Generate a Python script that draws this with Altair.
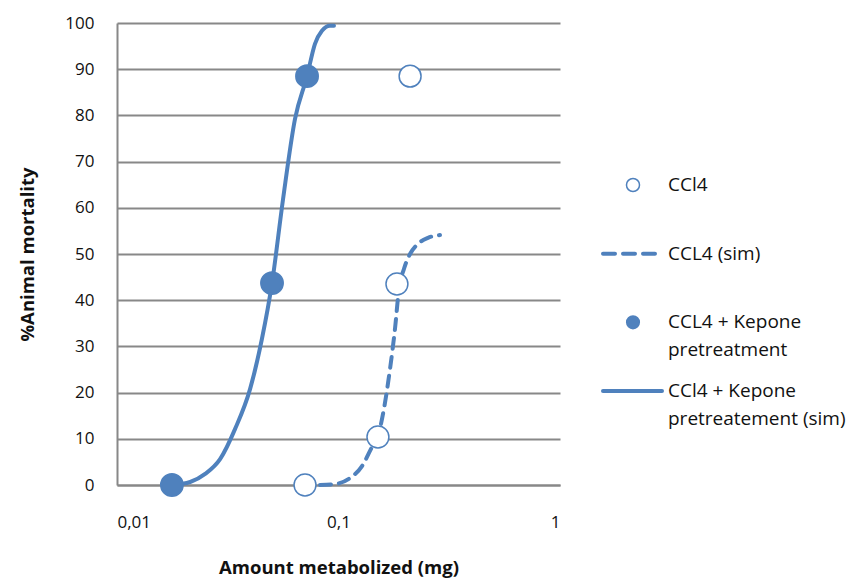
import altair as alt
import pandas as pd

BLUE = "#4F81BD"
GRID = "#888888"
FONT = "Open Sans"

# Observed data
ccl4_x = [0.0706, 0.1507, 0.1836, 0.2105]
ccl4_y = [0, 10.4, 43.5, 88.5]
kep_x = [0.0177, 0.0501, 0.0721]
kep_y = [0, 43.7, 88.5]

# Simulated curves
ccl4_sim_x = [0.0825, 0.0964, 0.1127, 0.1277, 0.1416, 0.1507, 0.1604, 0.1708,
              0.1799, 0.1875, 0.1976, 0.2104, 0.2285, 0.2535, 0.2872]
ccl4_sim_y = [0, 0.2, 1.5, 4.1, 8.2, 10.6, 16.5, 25.1, 33.8, 42.4, 46.8, 50.0,
              52.2, 53.5, 54.1]
kep_sim_x = [0.0177, 0.0214, 0.0250, 0.0292, 0.0341, 0.0399, 0.0451, 0.0501,
             0.0562, 0.0636, 0.0721, 0.0783, 0.0842, 0.0915, 0.0954]
kep_sim_y = [0, 0.65, 2.4, 5.6, 12.1, 20.8, 31.6, 43.7, 61.9, 79.2, 88.5, 95.5,
             98.3, 99.4, 99.4]

legend_labels = [["CCl4"], ["CCL4 (sim)"], ["CCL4 + Kepone", "pretreatment"],
                 ["CCl4 + Kepone", "pretreatement (sim)"]]
legend_kind = ["open", "dash", "filled", "solid"]

ccl4 = pd.DataFrame({"x": ccl4_x, "y": ccl4_y})
kep = pd.DataFrame({"x": kep_x, "y": kep_y})
ccl4_sim = pd.DataFrame({"x": ccl4_sim_x, "y": ccl4_sim_y, "o": range(len(ccl4_sim_x))})
kep_sim = pd.DataFrame({"x": kep_sim_x, "y": kep_sim_y, "o": range(len(kep_sim_x))})

xscale = alt.Scale(type="log", domain=[0.01, 1])
yscale = alt.Scale(domain=[0, 100])

xenc = alt.X("x:Q", scale=xscale, axis=alt.Axis(
    title="Amount metabolized (mg)", values=[0.01, 0.1, 1], grid=False, ticks=False,
    labelExpr="replace(toString(datum.value), '.', ',')",
    labelPadding=29, titlePadding=28, domainColor=GRID, domainWidth=2))
yenc = alt.Y("y:Q", scale=yscale, axis=alt.Axis(
    title="%Animal mortality", values=list(range(0, 101, 10)), ticks=False,
    labelPadding=23, titlePadding=27, gridColor=GRID, gridWidth=2,
    domainColor=GRID, domainWidth=2))

l_ccl4_sim = alt.Chart(ccl4_sim).mark_line(
    color=BLUE, strokeWidth=4, strokeDash=[11, 8], strokeCap="round", interpolate="monotone"
).encode(x=xenc, y=yenc, order="o:Q")
l_kep_sim = alt.Chart(kep_sim).mark_line(
    color=BLUE, strokeWidth=4, strokeCap="round", interpolate="monotone"
).encode(x=xenc, y=yenc, order="o:Q")
p_ccl4 = alt.Chart(ccl4).mark_point(
    shape="circle", filled=True, fill="white", stroke=BLUE, strokeWidth=1.5, size=480, opacity=1
).encode(x=xenc, y=yenc)
p_kep = alt.Chart(kep).mark_point(
    shape="circle", filled=True, fill=BLUE, stroke=BLUE, size=480, opacity=1
).encode(x=xenc, y=yenc)

main = alt.layer(l_ccl4_sim, l_kep_sim, p_ccl4, p_kep).properties(width=443, height=462)

leg = pd.DataFrame({"i": range(4), "label": legend_labels, "kind": legend_kind})
ly = alt.Y("i:Q", scale=alt.Scale(domain=[-2.36, 4.37], reverse=True), axis=None)
base = alt.Chart(leg)
leg_open = base.transform_filter("datum.kind == 'open'").mark_point(
    shape="circle", filled=True, fill="white", stroke=BLUE, strokeWidth=1.5, size=170, opacity=1
).encode(x=alt.value(53), y=ly)
leg_filled = base.transform_filter("datum.kind == 'filled'").mark_point(
    shape="circle", filled=True, fill=BLUE, size=200, opacity=1
).encode(x=alt.value(53), y=ly)
leg_dash = base.transform_filter("datum.kind == 'dash'").mark_rule(
    color=BLUE, strokeWidth=4, strokeDash=[12, 8], strokeCap="round"
).encode(x=alt.value(23), x2=alt.value(76), y=ly)
leg_solid = base.transform_filter("datum.kind == 'solid'").mark_rule(
    color=BLUE, strokeWidth=4, strokeCap="round"
).encode(x=alt.value(23), x2=alt.value(82), y=ly)
leg_text = base.mark_text(
    align="left", baseline="alphabetic", dy=6, fontSize=19, font=FONT,
    lineHeight=28, color="#111111"
).encode(x=alt.value(88), y=ly, text="label")

legend = alt.layer(leg_dash, leg_solid, leg_open, leg_filled, leg_text).properties(
    width=270, height=462)

chart = alt.hconcat(main, legend, spacing=20).properties(
    padding={"left": 18, "top": 14, "right": 0, "bottom": 4}
).configure_view(stroke=None).configure_axis(
    labelFont=FONT, labelFontSize=17, labelColor="#111111",
    titleFont=FONT, titleFontSize=18.5, titleFontWeight="bold", titleColor="#111111"
)

chart.save("out.html", embed_options={"renderer": "svg", "actions": False})
